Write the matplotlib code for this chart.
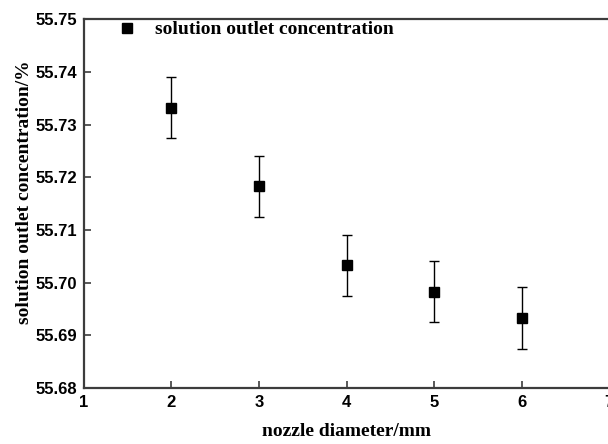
import matplotlib
matplotlib.use("Agg")
import matplotlib.pyplot as plt

# nozzle diameter vs outlet concentration
diameter = [2, 3, 4, 5, 6]
concentration = [55.7332, 55.7183, 55.7033, 55.6983, 55.6933]
error = [0.0058, 0.0058, 0.0058, 0.0058, 0.0058]

x_ticks = [1, 2, 3, 4, 5, 6, 7]
y_ticks = [55.68, 55.69, 55.70, 55.71, 55.72, 55.73, 55.74, 55.75]

fig = plt.figure(figsize=(6.08, 4.44), dpi=100)
ax = fig.add_axes([0.138, 0.126, 0.864, 0.831])

ax.errorbar(diameter, concentration, yerr=error, fmt='none',
            ecolor='black', elinewidth=1.0, capsize=3.3, capthick=1.0)
ax.plot(diameter, concentration, 's', color='black', markersize=7.5,
        label='solution outlet concentration')

ax.set_xlim(1, 7)
ax.set_ylim(55.68, 55.75)
ax.set_xticks(x_ticks)
ax.set_yticks(y_ticks)
ax.set_yticklabels(['%.2f' % v for v in y_ticks])

for s in ax.spines.values():
    s.set_linewidth(1.6)
    s.set_color('#3c3c3c')

ax.tick_params(direction='in', length=5, width=1.2, color='#3c3c3c', pad=5)
for lab in ax.get_xticklabels() + ax.get_yticklabels():
    lab.set_fontfamily('Liberation Sans')
    lab.set_fontweight('bold')
    lab.set_fontsize(12)

ax.set_xlabel('nozzle diameter/mm', family='Liberation Serif', fontweight='bold',
              fontsize=14, labelpad=9)
ax.set_ylabel('solution outlet concentration/%', family='Liberation Serif',
              fontweight='bold', fontsize=14)
ax.yaxis.set_label_coords(-0.097, 0.53)

leg = ax.legend(loc='upper left', frameon=False, handletextpad=0.8,
                handlelength=1.2, borderaxespad=0.1, bbox_to_anchor=(0.042, 1.022),
                prop={'family': 'Liberation Serif', 'weight': 'bold', 'size': 14})

fig.savefig('out.png', dpi=100)
